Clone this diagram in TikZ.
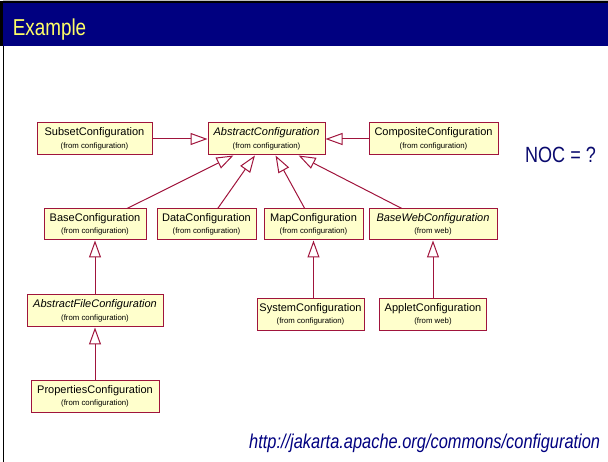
\documentclass[tikz,border=0pt]{standalone}
\usepackage{fontspec}
\setmainfont{Liberation Sans}
\usetikzlibrary{arrows.meta}
\definecolor{slideblue}{RGB}{0,0,128}
\definecolor{titleyellow}{RGB}{255,255,102}
\definecolor{umlred}{RGB}{160,20,60}
\definecolor{umlfill}{RGB}{255,255,204}
\definecolor{textblue}{RGB}{10,10,110}
\newcommand{\frompkg}[1]{{\fontsize{7.8}{9}\selectfont (from #1)}}

\begin{document}
\begin{tikzpicture}[x=1pt, y=-1pt,
  cls/.style={draw=umlred, fill=umlfill, line width=1pt, inner sep=0pt,
    minimum height=32pt, align=center, font=\fontsize{11}{12.6}\selectfont},
  inh/.style={draw=umlred, line width=1pt,
    -{Triangle[open, length=17pt, width=12pt]}}]
  \useasboundingbox (0,0) rectangle (608,462);
  % slide frame and title bar
  \fill[black!25] (3,0) rectangle (608,1.5);
  \fill[black] (0,1.5) rectangle (608,3.5);
  \fill[slideblue] (3,3.5) rectangle (608,46);
  \fill[black] (0,1.5) rectangle (3,46);
  \fill[black] (2.5,46) rectangle (4,462);
  \node[anchor=base west, inner sep=0pt, xscale=0.82, text=titleyellow,
    font=\fontsize{23}{26}\selectfont] (title) at (12.7,36) {Example};
  % classes, top row
  \node[cls, minimum width=115pt] (subset) at (94.5,139)
    {SubsetConfiguration\\\frompkg{configuration}};
  \node[cls, minimum width=117pt] (abscfg) at (266.5,139)
    {\itshape AbstractConfiguration\\\frompkg{configuration}};
  \node[cls, minimum width=129pt] (comp) at (433.5,139)
    {CompositeConfiguration\\\frompkg{configuration}};
  % second row
  \node[cls, minimum width=102pt, minimum height=31pt] (base) at (95,224.5)
    {BaseConfiguration\\\frompkg{configuration}};
  \node[cls, minimum width=99pt, minimum height=31pt] (data) at (206.5,224.5)
    {DataConfiguration\\\frompkg{configuration}};
  \node[cls, minimum width=99pt, minimum height=31pt] (map) at (313.5,224.5)
    {MapConfiguration\\\frompkg{configuration}};
  \node[cls, minimum width=128pt, minimum height=31pt] (bweb) at (433,224.5)
    {\itshape BaseWebConfiguration\\\frompkg{web}};
  % third and fourth row
  \node[cls, minimum width=136pt] (afile) at (95,311)
    {\itshape AbstractFileConfiguration\\\frompkg{configuration}};
  \node[cls, minimum width=107pt] (sys) at (310.5,314.5)
    {SystemConfiguration\\\frompkg{configuration}};
  \node[cls, minimum width=107pt] (applet) at (433,314.5)
    {AppletConfiguration\\\frompkg{web}};
  \node[cls, minimum width=128pt, minimum height=31pt] (props) at (95,396.5)
    {PropertiesConfiguration\\\frompkg{configuration}};
  % generalizations
  \draw[inh] (subset) -- (abscfg);
  \draw[inh] (comp) -- (abscfg);
  \draw[inh] (base) -- (abscfg);
  \draw[inh] (data) -- (abscfg);
  \draw[inh] (map) -- (abscfg);
  \draw[inh] (bweb) -- (abscfg);
  \draw[inh] (afile) -- (base);
  \draw[inh] (props) -- (afile);
  \draw[inh] (sys.north -| map) -- (map);
  \draw[inh] (applet) -- (bweb);
  % slide texts
  \node[anchor=base west, inner sep=0pt, xscale=0.82, text=textblue,
    font=\fontsize{22}{26}\selectfont] (noc) at (525,163) {NOC = ?};
  \node[anchor=base west, inner sep=0pt, xscale=0.82, text=slideblue,
    font=\fontsize{20}{24}\selectfont\itshape] (url) at (249,448)
    {http://jakarta.apache.org/commons/configuration};
\end{tikzpicture}
\end{document}
